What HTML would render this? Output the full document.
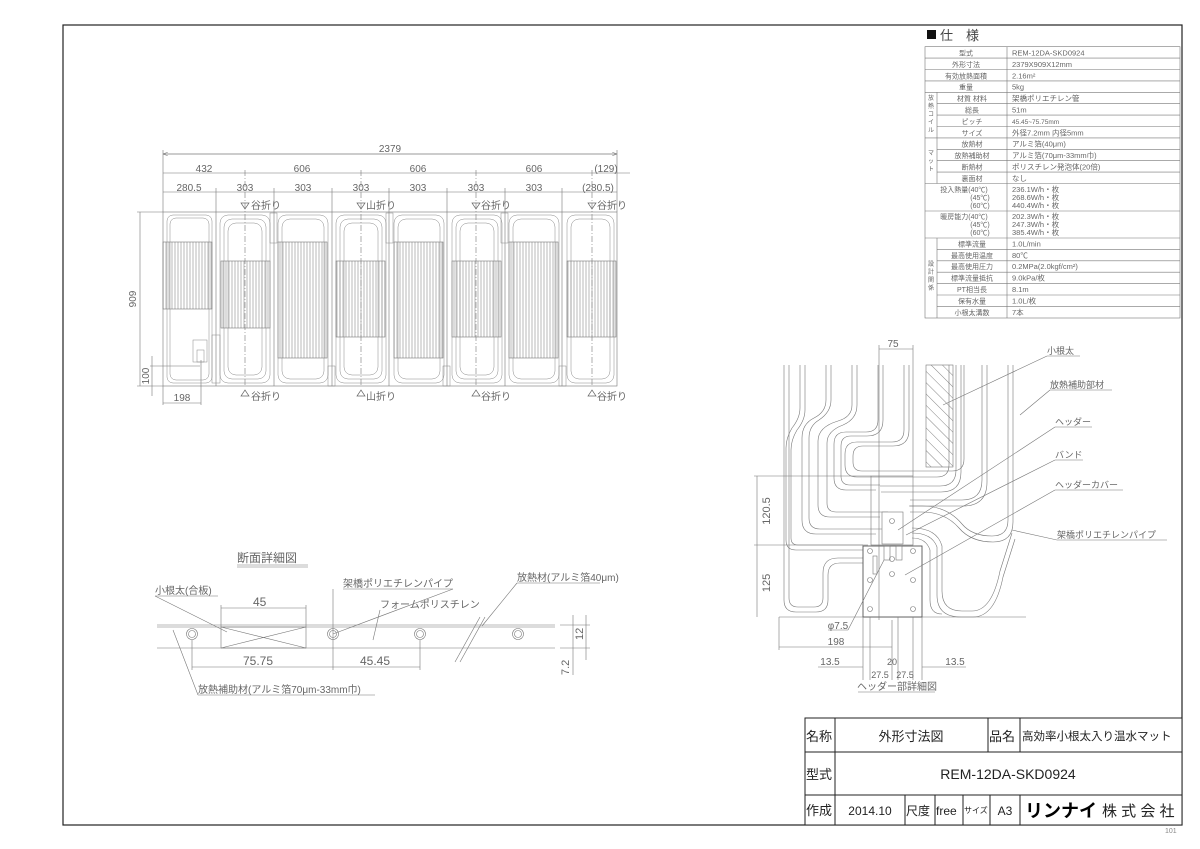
<!DOCTYPE html>
<html><head><meta charset="utf-8"><style>
html,body{margin:0;padding:0;background:#fff;}
svg{display:block;font-family:"Liberation Sans","Noto Sans CJK JP",sans-serif;}
</style></head><body>
<svg width="1200" height="849" viewBox="0 0 1200 849" xmlns="http://www.w3.org/2000/svg">
<defs>
<pattern id="vl" width="3" height="10" patternUnits="userSpaceOnUse"><line x1="1" y1="0" x2="1" y2="10" stroke="#888" stroke-width="0.6"/></pattern>
<pattern id="hatch" width="8" height="8" patternUnits="userSpaceOnUse" patternTransform="rotate(-45)"><line x1="0" y1="0" x2="0" y2="8" stroke="#666" stroke-width="0.8"/></pattern>
<marker id="ar" markerWidth="8" markerHeight="6" refX="8" refY="3" orient="auto"><path d="M0,0 L8,3 L0,6" fill="none" stroke="#666" stroke-width="0.8"/></marker>
</defs>
<rect width="1200" height="849" fill="#fff"/>
<!-- frame -->
<rect x="63" y="25" width="1119" height="800" fill="none" stroke="#222" stroke-width="1.2"/>

<!-- spec table -->
<g font-size="7.5" fill="#555" stroke="none">
<rect x="927" y="30" width="9" height="9" fill="#111"/>
<text x="940" y="40" font-size="13" fill="#444">仕　様</text>
</g>
<g stroke="#777" stroke-width="0.6" fill="none">
<rect x="925" y="46.7" width="255" height="271.3"/>
<line x1="1007" y1="46.7" x2="1007" y2="318"/>
<line x1="937" y1="92.3" x2="937" y2="183.5"/>
<line x1="937" y1="238" x2="937" y2="318"/>
<line x1="925" y1="58.1" x2="1180" y2="58.1"/>
<line x1="925" y1="69.5" x2="1180" y2="69.5"/>
<line x1="925" y1="80.9" x2="1180" y2="80.9"/>
<line x1="925" y1="92.3" x2="1180" y2="92.3"/>
<line x1="937" y1="103.7" x2="1180" y2="103.7"/>
<line x1="937" y1="115.1" x2="1180" y2="115.1"/>
<line x1="937" y1="126.5" x2="1180" y2="126.5"/>
<line x1="925" y1="137.9" x2="1180" y2="137.9"/>
<line x1="937" y1="149.3" x2="1180" y2="149.3"/>
<line x1="937" y1="160.7" x2="1180" y2="160.7"/>
<line x1="937" y1="172.1" x2="1180" y2="172.1"/>
<line x1="925" y1="183.5" x2="1180" y2="183.5"/>
<line x1="925" y1="211" x2="1180" y2="211"/>
<line x1="925" y1="238" x2="1180" y2="238"/>
<line x1="937" y1="249.4" x2="1180" y2="249.4"/>
<line x1="937" y1="260.8" x2="1180" y2="260.8"/>
<line x1="937" y1="272.2" x2="1180" y2="272.2"/>
<line x1="937" y1="283.6" x2="1180" y2="283.6"/>
<line x1="937" y1="295" x2="1180" y2="295"/>
<line x1="937" y1="306.4" x2="1180" y2="306.4"/>
</g>
<g font-size="7" fill="#666" text-anchor="middle">
<text x="966" y="55.5">型式</text><text x="966" y="66.9">外形寸法</text><text x="966" y="78.3">有効放熱面積</text><text x="966" y="89.7">重量</text>
<text x="972" y="101.1">材質 材料</text><text x="972" y="112.5">総長</text><text x="972" y="123.9">ピッチ</text><text x="972" y="135.3">サイズ</text>
<text x="972" y="146.7">放熱材</text><text x="972" y="158.1">放熱補助材</text><text x="972" y="169.5">断熱材</text><text x="972" y="180.9">裏面材</text>
<text x="964" y="192">投入熱量(40℃)</text><text x="980" y="200">(45℃)</text><text x="980" y="208">(60℃)</text>
<text x="964" y="219">暖房能力(40℃)</text><text x="980" y="227">(45℃)</text><text x="980" y="235">(60℃)</text>
<text x="972" y="246.4">標準流量</text><text x="972" y="257.8">最高使用温度</text><text x="972" y="269.2">最高使用圧力</text><text x="972" y="280.6">標準流量抵抗</text><text x="972" y="292">PT相当長</text><text x="972" y="303.4">保有水量</text><text x="972" y="314.8">小根太溝数</text>
<text x="931" y="100" font-size="6">放</text><text x="931" y="108" font-size="6">熱</text><text x="931" y="116" font-size="6">コ</text><text x="931" y="124" font-size="6">イ</text><text x="931" y="132" font-size="6">ル</text>
<text x="931" y="155" font-size="6">マ</text><text x="931" y="163" font-size="6">ッ</text><text x="931" y="171" font-size="6">ト</text>
<text x="931" y="266" font-size="6">設</text><text x="931" y="274" font-size="6">計</text><text x="931" y="282" font-size="6">関</text><text x="931" y="290" font-size="6">係</text>
</g>
<g font-size="7.5" fill="#666">
<text x="1012" y="55.5">REM-12DA-SKD0924</text><text x="1012" y="66.9">2379X909X12mm</text><text x="1012" y="78.3">2.16m²</text><text x="1012" y="89.7">5kg</text>
<text x="1012" y="101.1">架橋ポリエチレン管</text><text x="1012" y="112.5">51m</text><text x="1012" y="123.9" font-size="6.5">45.45~75.75mm</text><text x="1012" y="135.3">外径7.2mm 内径5mm</text>
<text x="1012" y="146.7">アルミ箔(40μm)</text><text x="1012" y="158.1">アルミ箔(70μm-33mm巾)</text><text x="1012" y="169.5">ポリスチレン発泡体(20倍)</text><text x="1012" y="180.9">なし</text>
<text x="1012" y="192">236.1W/h・枚</text><text x="1012" y="200">268.6W/h・枚</text><text x="1012" y="208">440.4W/h・枚</text>
<text x="1012" y="219">202.3W/h・枚</text><text x="1012" y="227">247.3W/h・枚</text><text x="1012" y="235">385.4W/h・枚</text>
<text x="1012" y="246.4">1.0L/min</text><text x="1012" y="257.8">80℃</text><text x="1012" y="269.2">0.2MPa(2.0kgf/cm²)</text><text x="1012" y="280.6">9.0kPa/枚</text><text x="1012" y="292">8.1m</text><text x="1012" y="303.4">1.0L/枚</text><text x="1012" y="314.8">7本</text>
</g>

<!-- main plan -->
<g stroke="#777" stroke-width="0.6" fill="none">
<rect x="163" y="212" width="454" height="174"/>
<line x1="163" y1="150" x2="163" y2="212"/><line x1="617" y1="150" x2="617" y2="212"/>
<line x1="163" y1="154" x2="617" y2="154" marker-end="url(#ar)"/><line x1="617" y1="154" x2="163" y2="154" marker-end="url(#ar)"/>
<line x1="163" y1="173" x2="630" y2="173"/>
<line x1="163" y1="192" x2="617" y2="192"/>
<line x1="216" y1="188" x2="216" y2="386"/><line x1="245" y1="170" x2="245" y2="386" stroke-dasharray="6,2,1,2"/>
<line x1="274" y1="188" x2="274" y2="386"/><line x1="332" y1="188" x2="332" y2="386"/>
<line x1="361" y1="170" x2="361" y2="386" stroke-dasharray="6,2,1,2"/><line x1="389" y1="188" x2="389" y2="386"/>
<line x1="447" y1="188" x2="447" y2="386"/><line x1="476" y1="170" x2="476" y2="386" stroke-dasharray="6,2,1,2"/>
<line x1="505" y1="188" x2="505" y2="386"/><line x1="562" y1="188" x2="562" y2="386"/>
<line x1="592" y1="170" x2="592" y2="386" stroke-dasharray="6,2,1,2"/>
<!-- 909 dim -->
<line x1="137" y1="212" x2="163" y2="212"/><line x1="137" y1="386" x2="163" y2="386"/>
<line x1="140" y1="212" x2="140" y2="386"/>
<line x1="150" y1="366" x2="200" y2="366"/><line x1="152" y1="356" x2="152" y2="396"/>
<line x1="163" y1="386" x2="163" y2="405"/><line x1="201" y1="360" x2="201" y2="405"/>
<line x1="163" y1="403" x2="201" y2="403"/>
</g>
<g fill="url(#vl)" stroke="#777" stroke-width="0.6">
<rect x="163" y="242" width="49" height="67"/><rect x="221" y="261" width="49" height="67"/>
<rect x="278" y="242" width="49" height="116"/><rect x="336" y="261" width="49" height="76"/>
<rect x="394" y="242" width="49" height="116"/><rect x="452" y="261" width="49" height="76"/>
<rect x="509" y="242" width="49" height="116"/><rect x="567" y="261" width="49" height="76"/>
</g>
<g stroke="#888" stroke-width="0.5" fill="none">
<rect x="167" y="215" width="45" height="168" rx="6"/><rect x="170" y="218" width="39" height="162" rx="6"/>
<rect x="220" y="215" width="50" height="168" rx="8"/><rect x="224" y="219" width="42" height="160" rx="8"/><rect x="228" y="223" width="34" height="152" rx="8"/>
<rect x="278" y="215" width="50" height="168" rx="8"/><rect x="282" y="219" width="42" height="160" rx="8"/>
<rect x="336" y="215" width="50" height="168" rx="8"/><rect x="340" y="219" width="42" height="160" rx="8"/><rect x="344" y="223" width="34" height="152" rx="8"/>
<rect x="394" y="215" width="50" height="168" rx="8"/><rect x="398" y="219" width="42" height="160" rx="8"/>
<rect x="452" y="215" width="50" height="168" rx="8"/><rect x="456" y="219" width="42" height="160" rx="8"/><rect x="460" y="223" width="34" height="152" rx="8"/>
<rect x="509" y="215" width="50" height="168" rx="8"/><rect x="513" y="219" width="42" height="160" rx="8"/>
<rect x="567" y="215" width="47" height="168" rx="8"/><rect x="571" y="219" width="39" height="160" rx="8"/>
<rect x="193" y="340" width="14" height="22"/><rect x="197" y="350" width="7" height="12"/>
<rect x="212" y="335" width="8" height="48"/>
<rect x="270" y="213" width="7" height="30"/><rect x="386" y="213" width="7" height="30"/><rect x="501" y="213" width="7" height="30"/>
<rect x="328" y="366" width="7" height="20"/><rect x="443" y="366" width="7" height="20"/><rect x="559" y="366" width="7" height="20"/>
</g>
<g fill="none" stroke="#666" stroke-width="0.7">
<path d="M241,203 h8 l-4,6z"/><path d="M357,203 h8 l-4,6z"/><path d="M472,203 h8 l-4,6z"/><path d="M588,203 h8 l-4,6z"/>
<path d="M241,396 h8 l-4,-6z"/><path d="M357,396 h8 l-4,-6z"/><path d="M472,396 h8 l-4,-6z"/><path d="M588,396 h8 l-4,-6z"/>
</g>
<g font-size="10" fill="#666" text-anchor="middle">
<text x="390" y="152">2379</text>
<text x="204" y="172">432</text><text x="302" y="172">606</text><text x="418" y="172">606</text><text x="534" y="172">606</text><text x="606" y="172">(129)</text>
<text x="189" y="191">280.5</text><text x="245" y="191">303</text><text x="303" y="191">303</text><text x="361" y="191">303</text><text x="418" y="191">303</text><text x="476" y="191">303</text><text x="534" y="191">303</text><text x="598" y="191">(280.5)</text>
<text x="266" y="209">谷折り</text><text x="381" y="209">山折り</text><text x="496" y="209">谷折り</text><text x="612" y="209">谷折り</text>
<text x="266" y="400">谷折り</text><text x="381" y="400">山折り</text><text x="496" y="400">谷折り</text><text x="612" y="400">谷折り</text>
<text x="182" y="401">198</text>
<text transform="translate(136,299) rotate(-90)">909</text>
<text transform="translate(149,376) rotate(-90)">100</text>
</g>

<!-- section detail -->
<g font-size="10" fill="#666">
<text x="237" y="562" font-size="12">断面詳細図</text>
<text x="155" y="594">小根太(合板)</text>
<text x="343" y="587">架橋ポリエチレンパイプ</text>
<text x="380" y="608">フォームポリスチレン</text>
<text x="517" y="581">放熱材(アルミ箔40μm)</text>
<text x="198" y="693">放熱補助材(アルミ箔70μm-33mm巾)</text>
<text x="253" y="606" font-size="12">45</text>
<text x="243" y="665" font-size="12">75.75</text>
<text x="360" y="665" font-size="12">45.45</text>
<text transform="translate(583,640) rotate(-90)" font-size="11">12</text>
<text transform="translate(569,675) rotate(-90)" font-size="11">7.2</text>
</g>
<g stroke="#777" stroke-width="0.6" fill="none">
<line x1="237" y1="565" x2="308" y2="565"/><line x1="237" y1="567" x2="308" y2="567"/>
<line x1="155" y1="596" x2="218" y2="596"/><line x1="343" y1="589" x2="453" y2="589"/><line x1="517" y1="583" x2="600" y2="583"/>
<line x1="198" y1="695" x2="375" y2="695"/>
<line x1="157" y1="625" x2="555" y2="625"/><line x1="157" y1="627" x2="555" y2="627"/><line x1="157" y1="648" x2="555" y2="648"/>
<line x1="455" y1="662" x2="480" y2="617"/><line x1="460" y1="662" x2="485" y2="617"/>
<rect x="221" y="627" width="85" height="21"/><line x1="221" y1="648" x2="306" y2="627"/><line x1="221" y1="627" x2="306" y2="648"/>
<circle cx="192" cy="634" r="5.5"/><circle cx="192" cy="634" r="3.5"/>
<circle cx="333" cy="634" r="5.5"/><circle cx="333" cy="634" r="3.5"/>
<circle cx="420" cy="634" r="5.5"/><circle cx="420" cy="634" r="3.5"/>
<circle cx="518" cy="634" r="5.5"/><circle cx="518" cy="634" r="3.5"/>
<line x1="221" y1="605" x2="221" y2="627"/><line x1="306" y1="605" x2="306" y2="627"/>
<line x1="221" y1="608" x2="306" y2="608"/>
<line x1="192" y1="640" x2="192" y2="670"/><line x1="333" y1="589" x2="333" y2="670"/><line x1="420" y1="640" x2="420" y2="670"/>
<line x1="192" y1="667" x2="420" y2="667"/>
<line x1="560" y1="625" x2="590" y2="625"/><line x1="560" y1="648" x2="590" y2="648"/>
<line x1="573" y1="615" x2="573" y2="675"/><line x1="586" y1="615" x2="586" y2="660"/>
<line x1="155" y1="596" x2="227" y2="632"/><line x1="173" y1="630" x2="198" y2="695"/>
<line x1="453" y1="589" x2="333" y2="634"/><line x1="517" y1="583" x2="482" y2="626"/>
<line x1="380" y1="610" x2="373" y2="640"/>
</g>

<!-- header detail -->
<g stroke="#777" stroke-width="0.6" fill="none">
<line x1="779" y1="617" x2="1026" y2="617"/>
<path d="M784,365 V600 q0,12 12,12 h20 q12,0 12,-12 v-25 q0,-12 12,-12 h33"/>
<path d="M789,365 V598 q0,9 9,9 h16 q9,0 9,-9 v-25 q0,-15 15,-15 h35"/>
<path d="M800,365 V408 q0,10 -8,20 q-6,10 -6,20 V540 q0,10 10,10 h70"/>
<path d="M805,365 V410 q0,10 -8,20 q-6,10 -6,20 V538 q0,7 7,7 h70"/>
<path d="M826,365 V400 q0,12 -12,18 q-12,6 -12,20 V520 q0,14 14,14 h60"/>
<path d="M831,365 V400 q0,12 -12,20 q-10,6 -10,18 V518 q0,11 11,11 h62"/>
<path d="M852,365 V405 q0,12 -14,16 q-20,6 -20,20 V505 q0,12 12,12 h50"/>
<path d="M857,365 V405 q0,14 -14,20 q-16,6 -16,18 V503 q0,9 9,9 h52"/>
<path d="M878,365 V420 q0,12 -12,12 h-20 q-12,0 -12,12 V478 q0,12 12,12 h30"/>
<path d="M883,365 V420 q0,16 -16,16 h-16 q-10,0 -10,10 V476 q0,9 9,9 h30"/>
<path d="M904,365 V430 q0,12 -12,12 h-35 q-12,0 -12,12 V465 q0,12 12,12 h80 q12,0 12,-12 V365"/>
<path d="M909,365 V430 q0,16 -16,16 h-30 q-10,0 -10,10 V462 q0,9 9,9 h90 q12,0 12,-12 V365"/>
<path d="M956,365 V470 q0,16 -16,16 h-60"/><path d="M961,365 V472 q0,20 -20,20 h-60"/>
<path d="M982,365 V480 q0,20 -20,20 h-52"/><path d="M987,365 V482 q0,24 -24,24 h-54"/>
<path d="M1008,365 V520 q0,16 -16,16 q-20,0 -30,-12 q-15,-18 -40,-18 h-12"/><path d="M1013,365 V522 q0,20 -20,20 q-22,0 -34,-14 q-14,-16 -37,-16 h-12"/>
<path d="M912,528 q25,0 30,18 v45 q0,20 20,20 h10 q20,0 28,-40 l12,-38"/>
<path d="M912,533 q20,0 25,14 v48 q0,22 24,22 h12 q22,0 30,-40 l12,-38"/>
<path d="M912,538 q14,0 18,12 v50 q0,14 12,14"/>
<rect x="926" y="365" width="27" height="102" fill="url(#hatch)"/>
<rect x="871" y="476" width="42" height="69"/>
<rect x="882" y="512" width="21" height="32" fill="#fff"/>
<rect x="863" y="546" width="59" height="71" fill="#fff" stroke="#555" stroke-width="0.9"/>
<circle cx="892" cy="521" r="2.5"/><circle cx="870" cy="551" r="2.5"/><circle cx="913" cy="551" r="2.5"/><circle cx="892" cy="559" r="2.5"/><circle cx="870" cy="580" r="2.5"/><circle cx="892" cy="574" r="2.5"/><circle cx="913" cy="580" r="2.5"/><circle cx="870" cy="609" r="2.5"/><circle cx="913" cy="609" r="2.5"/>
<rect x="873" y="556" width="4" height="18"/><rect x="884" y="546" width="6" height="14"/><rect x="896" y="546" width="6" height="14"/>
<!-- dims -->
<line x1="879" y1="345" x2="879" y2="620"/><line x1="913" y1="345" x2="913" y2="476"/>
<line x1="879" y1="349" x2="913" y2="349"/>
<line x1="754" y1="476" x2="871" y2="476"/><line x1="754" y1="545" x2="863" y2="545"/>
<line x1="757" y1="476" x2="757" y2="617"/>
<line x1="779" y1="617" x2="779" y2="650"/><line x1="892" y1="620" x2="892" y2="680"/>
<line x1="779" y1="647" x2="892" y2="647"/>
<line x1="863" y1="617" x2="863" y2="680"/><line x1="922" y1="617" x2="922" y2="680"/>
<line x1="870" y1="617" x2="870" y2="680"/><line x1="913" y1="617" x2="913" y2="680"/><line x1="898" y1="617" x2="898" y2="680"/>
<line x1="818" y1="667" x2="863" y2="667"/><line x1="922" y1="667" x2="966" y2="667"/>
<line x1="828" y1="630" x2="848" y2="630"/><line x1="848" y1="630" x2="884" y2="560"/>
<line x1="1047" y1="356" x2="1080" y2="356"/><line x1="1047" y1="356" x2="943" y2="405"/>
<line x1="1050" y1="390" x2="1112" y2="390"/><line x1="1050" y1="390" x2="1020" y2="415"/>
<line x1="1055" y1="427" x2="1092" y2="427"/><line x1="1055" y1="427" x2="898" y2="530"/>
<line x1="1055" y1="460" x2="1083" y2="460"/><line x1="1055" y1="460" x2="906" y2="535"/>
<line x1="1055" y1="490" x2="1123" y2="490"/><line x1="1055" y1="490" x2="905" y2="575"/>
<line x1="1057" y1="540" x2="1167" y2="540"/><line x1="1057" y1="540" x2="1012" y2="530"/>
<line x1="858" y1="692" x2="935" y2="692"/>
</g>
<g font-size="10" fill="#666" text-anchor="middle">
<text x="893" y="347">75</text>
<text transform="translate(770,511) rotate(-90)" font-size="11">120.5</text>
<text transform="translate(770,583) rotate(-90)" font-size="11">125</text>
<text x="838" y="629">φ7.5</text>
<text x="836" y="645">198</text>
<text x="830" y="665">13.5</text><text x="955" y="665">13.5</text>
<text x="892" y="665" font-size="9">20</text>
<text x="880" y="678" font-size="9">27.5</text><text x="905" y="678" font-size="9">27.5</text>
<text x="897" y="690">ヘッダー部詳細図</text>
</g>
<g font-size="9" fill="#666">
<text x="1047" y="354">小根太</text><text x="1050" y="388">放熱補助部材</text><text x="1055" y="425">ヘッダー</text><text x="1055" y="458">バンド</text><text x="1055" y="488">ヘッダーカバー</text><text x="1057" y="538">架橋ポリエチレンパイプ</text>
</g>

<!-- title block -->
<g stroke="#222" stroke-width="1" fill="none">
<rect x="805" y="718" width="377" height="107" fill="#fff"/>
<line x1="805" y1="752" x2="1182" y2="752"/><line x1="805" y1="795" x2="1182" y2="795"/>
<line x1="835" y1="718" x2="835" y2="825"/>
<line x1="988" y1="718" x2="988" y2="752"/><line x1="1020" y1="718" x2="1020" y2="752"/>
<line x1="905" y1="795" x2="905" y2="825"/><line x1="935" y1="795" x2="935" y2="825"/><line x1="963" y1="795" x2="963" y2="825"/><line x1="990" y1="795" x2="990" y2="825"/><line x1="1020" y1="795" x2="1020" y2="825"/>
</g>
<g font-size="13" fill="#222">
<text x="806" y="741">名称</text><text x="806" y="779">型式</text><text x="806" y="815">作成</text>
<text x="911" y="741" text-anchor="middle">外形寸法図</text>
<text x="989" y="741">品名</text>
<text x="1022" y="740" font-size="11.5">高効率小根太入り温水マット</text>
<text x="1008" y="779" text-anchor="middle" font-size="14">REM-12DA-SKD0924</text>
<text x="870" y="815" text-anchor="middle" font-size="12">2014.10</text>
<text x="906" y="815" font-size="12">尺度</text><text x="936" y="815" font-size="12">free</text><text x="964" y="813" font-size="8">サイズ</text>
<text x="1005" y="815" text-anchor="middle" font-size="12">A3</text>
<text x="1025" y="817" font-size="18" font-weight="bold" fill="#000">リンナイ</text>
<text x="1102" y="816" font-size="15">株 式 会 社</text>
<text x="1165" y="833" font-size="7" fill="#888">101</text>
</g>
</svg>
</body></html>
